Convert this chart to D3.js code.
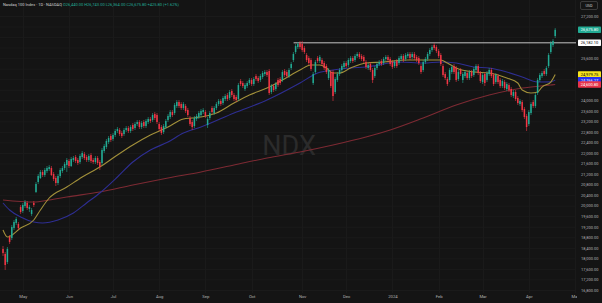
<!DOCTYPE html>
<html>
<head>
<meta charset="utf-8">
<script src="https://cdn.jsdelivr.net/npm/d3@7"></script>
<style>
  html, body { margin: 0; padding: 0; background: #141414; }
  svg { display: block; font-family: "Roboto", "Liberation Sans", sans-serif; }
</style>
</head>
<body>
<svg id="chart" width="602" height="303"></svg>
<script>
// x axis: month labels and the bar index where each month starts
const monthLabels = ["May", "Jun", "Jul", "Aug", "Sep", "Oct", "Nov", "Dec", "2024", "Feb", "Mar", "Apr", "May"];
const monthStartBar = [9, 30, 50, 71, 92, 113, 136, 156, 177, 198, 218, 239, 260];

// price axis ticks
const priceTicks = [16800, 17200, 17600, 18000, 18400, 18800, 19200, 19600, 20000, 20400, 20800, 21200,
  21600, 22000, 22400, 22800, 23200, 23600, 24000, 24400, 24800, 25200, 25600, 26000, 26400, 26800, 27200];

// daily candles [open, high, low, close]
const candles = [
  [18357,18470,18091,18205],[18167,18243,17560,17749],[17863,18432,17787,18357],[18812,18888,18546,18623],
  [18775,19267,18698,19191],[19153,19457,19077,19381],[19343,19571,19267,19495],[19305,19381,19077,19153],
  [19950,20026,19685,19761],[19799,20102,19723,20026],[19988,20216,19912,20140],[20102,20178,19836,19912],
  [19874,20026,19761,19950],[19685,19912,19609,19836],[20102,20178,19950,20026],[20520,20899,20482,20823],
  [20899,21203,20823,21127],[21051,21354,21013,21279],[21279,21354,21089,21165],[21165,21430,21089,21354],
  [21316,21506,21241,21430],[21392,21544,21316,21468],[21430,21506,21127,21165],[21203,21279,20937,21013],
  [21051,21127,20747,20861],[20861,21203,20785,21127],[21127,21430,21051,21354],[21316,21506,21241,21430],
  [21430,21658,21354,21582],[21544,21810,21279,21734],[21696,21772,21430,21506],[21506,21848,21468,21772],
  [21734,21886,21658,21810],[21848,21923,21620,21696],[21734,21810,21544,21620],[21658,21961,21582,21886],
  [21848,22075,21772,21999],[21961,22037,21734,21810],[21848,21923,21658,21734],[21734,21961,21658,21886],
  [21923,21999,21620,21696],[21734,21810,21582,21658],[21658,21886,21582,21810],[21810,21886,21544,21620],
  [21658,21734,21354,21468],[21620,22190,21544,22113],[22075,22341,21999,22265],[22227,22531,22151,22455],
  [22417,22645,22341,22569],[22645,22721,22417,22493],[22531,22758,22455,22683],[22683,22910,22607,22834],
  [22834,22986,22758,22910],[22872,22948,22645,22721],[22758,22834,22569,22645],[22721,22948,22645,22872],
  [22872,23024,22796,22948],[22948,23024,22758,22834],[22834,23062,22758,22986],[23062,23138,22834,22910],
  [22948,23176,22872,23100],[23100,23252,23024,23176],[23176,23252,22910,22986],[22986,23214,22910,23138],
  [23176,23252,22948,23024],[23024,23290,22948,23214],[23176,23366,23100,23290],[23290,23366,23138,23214],
  [23252,23518,23176,23442],[23480,23556,23252,23328],[23442,23518,23100,23176],[23100,23176,22834,22910],
  [22986,23062,22683,22758],[22796,23100,22721,23024],[22986,23290,22910,23214],[23252,23480,23176,23404],
  [23366,23631,23290,23556],[23556,23631,23366,23442],[23518,23897,23442,23821],[23783,24011,23707,23935],
  [23935,24011,23707,23783],[23859,23935,23631,23707],[23707,23935,23631,23859],[23783,23859,23518,23593],
  [23631,23707,23366,23442],[23328,23404,23024,23100],[23176,23252,22872,22986],[23024,23404,22948,23328],
  [23290,23480,23214,23404],[23366,23593,23290,23518],[23442,23669,23366,23593],[23556,23707,23480,23631],
  [23556,23631,23328,23404],[23062,23366,22948,23290],[23328,23593,23252,23518],[23707,23783,23480,23556],
  [23518,23783,23442,23707],[23707,23935,23631,23859],[23859,24049,23783,23973],[23973,24049,23783,23859],
  [23897,24163,23821,24087],[24049,24239,23973,24163],[24201,24277,23973,24049],[24087,24391,24011,24315],
  [24353,24428,24125,24201],[24201,24277,23973,24049],[24125,24201,23935,24011],[24049,24656,23973,24580],
  [24732,24808,24542,24618],[24656,24732,24466,24542],[24428,24656,24353,24580],[24542,24732,24466,24656],
  [24656,24846,24580,24770],[24770,24846,24542,24618],[24618,24884,24542,24808],[24922,24998,24732,24808],
  [24846,24922,24656,24732],[24770,24998,24694,24922],[24884,25112,24808,25036],[24998,25150,24922,25074],
  [25074,25150,24884,24960],[25112,25187,24201,24277],[24315,24618,24239,24542],[24542,24618,24315,24391],
  [24428,24694,24353,24618],[24770,24846,24504,24580],[24808,24884,24580,24656],[24770,25150,24694,25074],
  [25112,25187,24884,24960],[25074,25150,24846,24922],[24922,25225,24846,25150],[25225,25453,25150,25377],
  [25529,25833,25453,25757],[25833,26136,25757,26060],[26022,26212,25946,26136],[26174,26250,25946,26022],
  [26136,26250,25833,25908],[25984,26060,25757,25833],[25719,25795,25453,25529],[25605,25681,25339,25415],
  [25529,25605,25112,25187],[24656,25074,24580,24998],[25074,25529,24998,25453],[25605,25681,25415,25491],
  [25491,25719,25415,25643],[25529,25605,25301,25377],[25415,25491,25150,25225],[25301,25377,24998,25074],
  [24846,25225,24770,25150],[25074,25150,24466,24542],[25074,25150,23973,24163],[24315,24884,24239,24808],
  [24770,25074,24694,24998],[24998,25225,24922,25150],[25150,25377,25074,25301],[25263,25491,25187,25415],
  [25415,25491,25225,25301],[25339,25605,25263,25529],[25491,25681,25415,25605],[25605,25681,25415,25491],
  [25529,25757,25453,25681],[25681,25833,25605,25757],[25757,25833,25567,25643],[25681,25757,25491,25567],
  [25643,25719,25415,25491],[25453,25529,25187,25263],[25225,25415,25150,25339],[25377,25453,25074,25150],
  [25150,25225,24656,24770],[24922,25301,24846,25225],[25225,25453,25150,25377],[25377,25529,25301,25453],
  [25491,25567,25301,25377],[25415,25643,25339,25567],[25567,25719,25491,25643],[25643,25719,25453,25529],
  [25567,25643,25301,25377],[25453,25529,25187,25263],[25301,25529,25225,25453],[25491,25567,25225,25301],
  [25415,25681,25339,25605],[25567,25757,25491,25681],[25681,25757,25453,25529],[25567,25795,25491,25719],
  [25681,25833,25605,25757],[25757,25833,25529,25605],[25643,25833,25567,25757],[25757,25833,25529,25605],
  [25643,25719,25453,25529],[25605,25681,25339,25415],[25301,25377,24998,25074],[25150,25529,25074,25453],
  [25453,25643,25377,25567],[25567,25833,25491,25757],[25757,25984,25681,25908],[25908,26098,25833,26022],
  [26098,26174,25908,25984],[26022,26098,25795,25870],[25870,25946,25605,25681],[25719,25795,25301,25377],
  [25301,25377,24884,24960],[24998,25074,24770,24846],[24808,24884,24542,24618],[24770,25225,24694,25150],
  [25074,25339,24998,25263],[25301,25377,24998,25074],[25225,25301,24694,24770],[24808,25150,24732,25074],
  [25150,25225,24922,24998],[24770,25074,24656,24998],[24922,25150,24846,25074],[25036,25112,24770,24846],
  [24846,25150,24770,25074],[25074,25150,24846,24922],[24960,25263,24884,25187],[25150,25377,25074,25301],
  [25301,25377,24960,25036],[25036,25112,24656,24732],[24694,25036,24618,24960],[24998,25074,24542,24656],
  [24770,25112,24694,25036],[24998,25225,24922,25150],[25150,25225,24846,24922],[24960,25036,24542,24618],
  [24694,25036,24618,24960],[24922,24998,24618,24694],[24770,24846,24466,24542],[24542,24808,24466,24732],
  [24694,24770,24391,24466],[24428,24694,24353,24618],[24580,24656,24315,24391],[24428,24504,24125,24201],
  [24163,24391,24087,24315],[24315,24391,23973,24049],[24087,24163,23821,23897],[23859,24049,23783,23973],
  [23935,24011,23556,23631],[23669,23745,23290,23366],[23404,23480,22834,22986],[23100,23631,23024,23556],
  [23518,23935,23442,23859],[23935,24011,23707,23783],[23783,24277,23707,24201],[24277,24846,24201,24770],
  [24770,25036,24694,24960],[24922,25112,24846,25036],[25112,25187,24922,24998],[24998,25301,24922,25225],
  [25301,25795,25225,25719],[25833,26250,25757,26174],[26098,26326,26022,26250],[26440,26743,26364,26675.8]
];

// moving averages, [bar index, value]
const maFast = [[0,19077],[2,18812],[8,19153],[14,19457],[17,19836],[21,20292],[29,20709],[36,21089],
  [44,21468],[52,21923],[59,22303],[67,22683],[75,22986],[82,23290],[86,23328],[90,23366],[97,23518],
  [105,23897],[112,24201],[120,24466],[127,24770],[135,25150],[140,25339],[144,25339],[147,25225],
  [150,25036],[153,25036],[158,25225],[165,25415],[173,25453],[184,25529],[191,25529],[199,25529],
  [202,25415],[206,25225],[214,25074],[221,25036],[229,24846],[234,24656],[236,24391],[240,24277],
  [243,24315],[245,24504],[249,24694],[251,24979.75]];
const maMid = [[0,20102],[3,19836],[8,19571],[14,19381],[18,19343],[25,19457],[32,19723],[38,20102],
  [44,20482],[52,21089],[59,21658],[67,22113],[75,22417],[82,22758],[90,22986],[105,23518],[120,24011],
  [135,24656],[143,25036],[150,25150],[158,25225],[165,25263],[180,25453],[191,25415],[199,25453],
  [206,25415],[214,25263],[221,25225],[229,25074],[236,24884],[243,24694],[249,24700],[251,24766.27]];
const maSlow = [[0,20216],[14,20140],[21,20216],[29,20330],[44,20520],[59,20785],[75,21051],[90,21279],
  [105,21544],[120,21810],[135,22037],[150,22303],[165,22607],[176,22872],[191,23328],[206,23821],
  [221,24201],[236,24466],[249,24580],[251,24600.8]];

const levelPrice = 26182.1;
const levelStartBar = 133;

const W = 602, H = 303;
const plotRight = 576, plotBottom = 293;
const upColor = "#22ab94", downColor = "#f23645";

const svg = d3.select("#chart");
svg.append("rect").attr("width", W).attr("height", H).attr("fill", "#141414");

const x = d3.scaleLinear().domain([0, candles.length - 1]).range([3, 555.2]);
const y = d3.scaleLinear().domain([16800, 27200]).range([290, 16]);

const defs = svg.append("defs");
defs.append("clipPath").attr("id", "plot")
  .append("rect").attr("x", 0).attr("y", 0).attr("width", plotRight).attr("height", plotBottom);
defs.append("clipPath").attr("id", "xclip")
  .append("rect").attr("x", 0).attr("y", 0).attr("width", 577).attr("height", 20);

// grid
const grid = svg.append("g").attr("clip-path", "url(#plot)");
grid.selectAll(".hg").data(priceTicks).enter().append("line")
  .attr("x1", 0).attr("x2", plotRight)
  .attr("y1", d => y(d) + 0.5).attr("y2", d => y(d) + 0.5)
  .attr("stroke", "#1a1a1a").attr("stroke-width", 1);
grid.selectAll(".vg").data(monthStartBar).enter().append("line")
  .attr("x1", d => Math.round(x(d)) + 0.5).attr("x2", d => Math.round(x(d)) + 0.5)
  .attr("y1", 0).attr("y2", plotBottom)
  .attr("stroke", "#1a1a1a").attr("stroke-width", 1);

// watermark
svg.append("text").attr("x", 289).attr("y", 155)
  .attr("text-anchor", "middle").attr("font-size", 27).attr("fill", "#2b2b2b")
  .text("NDX");

const plot = svg.append("g").attr("clip-path", "url(#plot)");

// moving averages
const maLine = d3.line().x(d => x(d[0])).y(d => y(d[1])).curve(d3.curveMonotoneX);
[[maSlow, "#7d2a33"], [maMid, "#2e2e92"], [maFast, "#a2903a"]].forEach(([data, col]) => {
  plot.append("path").attr("d", maLine(data))
    .attr("fill", "none").attr("stroke", col).attr("stroke-width", 1.1);
});

// level line
plot.append("line")
  .attr("x1", x(levelStartBar) - 2).attr("x2", plotRight)
  .attr("y1", y(levelPrice)).attr("y2", y(levelPrice))
  .attr("stroke", "#c4c4c4").attr("stroke-width", 1);

// candles
const bodyW = 1.5;
const candle = plot.selectAll(".c").data(candles).enter().append("g");
candle.append("line")
  .attr("x1", (d, i) => x(i)).attr("x2", (d, i) => x(i))
  .attr("y1", d => y(d[1])).attr("y2", d => y(d[2]))
  .attr("stroke", d => d[3] >= d[0] ? upColor : downColor).attr("stroke-width", 0.6);
candle.append("rect")
  .attr("x", (d, i) => x(i) - bodyW / 2).attr("width", bodyW)
  .attr("y", d => y(Math.max(d[0], d[3])))
  .attr("height", d => Math.max(0.7, Math.abs(y(d[0]) - y(d[3]))))
  .attr("fill", d => d[3] >= d[0] ? upColor : downColor);

// price tags
const fmt = d3.format(",.2f");
const last = candles[candles.length - 1];
const tags = [
  { v: last[3], bg: upColor, fg: "#ffffff" },
  { v: levelPrice, bg: "#ffffff", fg: "#000000" },
  { v: maFast[maFast.length - 1][1], bg: "#f5e21b", fg: "#000000" },
  { v: maMid[maMid.length - 1][1], bg: "#2531ee", fg: "#ffffff" },
  { v: maSlow[maSlow.length - 1][1], bg: "#e8334a", fg: "#ffffff" }
];

// price axis, labels hidden where a tag sits
const freeTicks = priceTicks.filter(t => tags.every(g => Math.abs(y(t) - y(g.v)) > 6));
const yAxis = svg.append("g").attr("transform", `translate(581,0)`)
  .call(d3.axisRight(y).tickValues(freeTicks).tickFormat(fmt).tickSize(0).tickPadding(0));
yAxis.select(".domain").remove();
yAxis.selectAll("text").attr("font-size", 4).attr("fill", "#b2b2b2").attr("font-family", "Roboto, sans-serif");

// time axis
const xAxis = svg.append("g").attr("transform", `translate(0,${plotBottom})`)
  .call(d3.axisBottom(x).tickValues(monthStartBar).tickFormat((d, i) => monthLabels[i]).tickSize(0).tickPadding(2));
xAxis.select(".domain").remove();
xAxis.selectAll("text").attr("font-size", 4.2).attr("fill", "#b2b2b2").attr("font-family", "Roboto, sans-serif");
xAxis.attr("clip-path", "url(#xclip)");

const tagG = svg.selectAll(".tag").data(tags).enter().append("g")
  .attr("transform", d => `translate(578,${y(d.v)})`);
tagG.append("rect").attr("x", 0).attr("y", -3.2).attr("width", 23).attr("height", 6.4)
  .attr("rx", 0.8).attr("fill", d => d.bg);
tagG.append("text").attr("x", 11.5).attr("y", 1.4).attr("text-anchor", "middle")
  .attr("font-size", 4).attr("fill", d => d.fg).text(d => fmt(d.v));

// currency box
svg.append("rect").attr("x", 580.5).attr("y", 1.5).attr("width", 17).attr("height", 8)
  .attr("rx", 1.5).attr("fill", "#141414").attr("stroke", "#4a4a4a").attr("stroke-width", 0.7);
svg.append("text").attr("x", 589).attr("y", 7).attr("text-anchor", "middle")
  .attr("font-size", 3.8).attr("fill", "#c8c8c8").text("USD");

// header
const prev = candles[candles.length - 2][3];
const chg = last[3] - prev;
const head = svg.append("text").attr("x", 3).attr("y", 6).attr("font-size", 4);
head.append("tspan").attr("fill", "#d1d1d1").text("Nasdaq 100 Index · 1D · NASDAQ  ");
head.append("tspan").attr("fill", upColor)
  .text(`O${fmt(last[0])} H${fmt(last[1])} L${fmt(last[2])} C${fmt(last[3])} ${chg >= 0 ? "+" : ""}${fmt(chg)} (${chg >= 0 ? "+" : ""}${(chg / prev * 100).toFixed(2)}%)`);
</script>
</body>
</html>
